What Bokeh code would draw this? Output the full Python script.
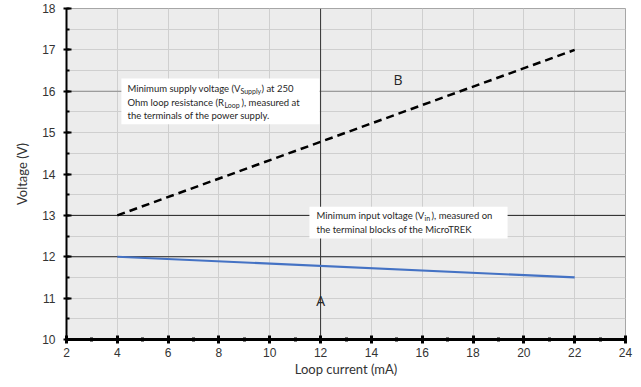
from bokeh.plotting import figure
from bokeh.models import Range1d, SingleIntervalTicker, Span, BoxAnnotation, Label
from bokeh.embed import file_html
from bokeh.resources import INLINE

# ---- data ----
loop_current = [4, 22]            # mA
v_supply_min = [13, 17]           # B: minimum supply voltage (V)
v_input_min = [12, 11.5]          # A: minimum input voltage (V)

x_range = (2, 24)
y_range = (10, 18)
x_tick_interval = 2
y_tick_interval = 1

ref_h_dark = [13, 12]
ref_h_mid = [16]
ref_v_dark = [12]

p = figure(width=633, height=381, output_backend="svg", toolbar_location=None,
           x_range=Range1d(*x_range), y_range=Range1d(*y_range),
           min_border_left=66, min_border_right=8, min_border_top=8, min_border_bottom=42)

p.background_fill_color = "#ececec"
p.border_fill_color = "white"
p.outline_line_color = "#a6a6a6"
p.outline_line_width = 1

p.xaxis.ticker = SingleIntervalTicker(interval=x_tick_interval, num_minor_ticks=2)
p.yaxis.ticker = SingleIntervalTicker(interval=y_tick_interval, num_minor_ticks=2)

grid_col = "#cfcfcf"
p.xgrid.grid_line_color = grid_col
p.ygrid.grid_line_color = grid_col
p.ygrid.minor_grid_line_color = grid_col

for ax in (p.xaxis[0], p.yaxis[0]):
    ax.axis_line_color = "black"
    ax.major_tick_line_color = "black"
    ax.minor_tick_line_color = "black"
    ax.major_label_text_font = "Liberation Sans"
    ax.major_label_text_font_size = "12px"
    ax.major_label_text_color = "#333333"
    ax.axis_label_text_font = "Lato"
    ax.axis_label_text_font_size = "13px"
    ax.axis_label_text_font_style = "normal"
    ax.axis_label_text_color = "#333333"

p.xaxis.axis_line_width = 3
p.xaxis.major_tick_line_width = 3
p.xaxis.minor_tick_line_width = 3
p.xaxis.major_tick_in = 4
p.xaxis.major_tick_out = 4
p.xaxis.minor_tick_in = 2
p.xaxis.minor_tick_out = 2
p.xaxis.major_label_standoff = 4
p.xaxis.axis_label = "Loop current (mA)"
p.xaxis.axis_label_standoff = 1

p.yaxis.axis_line_width = 2
p.yaxis.major_tick_line_width = 2
p.yaxis.minor_tick_line_width = 2
p.yaxis.major_tick_in = 5
p.yaxis.major_tick_out = 3
p.yaxis.minor_tick_in = 3
p.yaxis.minor_tick_out = 0
p.yaxis.major_label_standoff = 8
p.yaxis.axis_label = "Voltage (V)"
p.yaxis.axis_label_standoff = 9

# reference lines
for yv in ref_h_dark:
    p.add_layout(Span(location=yv, dimension="width", line_color="#222222", line_width=1, level="underlay"))
for yv in ref_h_mid:
    p.add_layout(Span(location=yv, dimension="width", line_color="#8c8c8c", line_width=1, level="underlay"))
for xv in ref_v_dark:
    p.add_layout(Span(location=xv, dimension="height", line_color="#333333", line_width=1, level="underlay"))

# data lines
p.line(loop_current, v_supply_min, line_color="black", line_width=2.5, line_dash="8 5")
p.line(loop_current, v_input_min, line_color="#4472c4", line_width=2.2)

# annotation boxes
p.add_layout(BoxAnnotation(left=4.16, right=11.96, bottom=15.20, top=16.31,
                           fill_color="white", fill_alpha=1, line_alpha=0))
p.add_layout(BoxAnnotation(left=11.56, right=19.36, bottom=12.44, top=13.21,
                           fill_color="white", fill_alpha=1, line_alpha=0))

def txt(x, y, s, dx=0, dy=0, size="9.5px"):
    p.add_layout(Label(x=x, y=y, text=s, x_offset=dx, y_offset=dy,
                       text_font="Lato", text_font_size=size, text_color="#262626",
                       text_baseline="middle", text_align="left"))

# box 1
bx1 = 4.40
txt(bx1, 16.07, "Minimum supply voltage (V")
txt(bx1, 16.07, "Supply", dx=113, dy=-3, size="7px")
txt(bx1, 16.07, ") at 250", dx=134)
txt(bx1, 15.73, "Ohm loop resistance (R")
txt(bx1, 15.73, "Loop", dx=97, dy=-3, size="7px")
txt(bx1, 15.73, "), measured at", dx=114)
txt(bx1, 15.41, "the terminals of the power supply.")

# box 2
bx2 = 11.84
txt(bx2, 13.0, "Minimum input voltage (V")
txt(bx2, 13.0, "in", dx=108, dy=-3, size="7px")
txt(bx2, 13.0, "), measured on", dx=115)
txt(bx2, 12.66, "the terminal blocks of the MicroTREK")

# series letters
p.add_layout(Label(x=15.05, y=16.28, text="B", text_font="Open Sans", text_font_size="14px",
                   text_color="#262626", text_align="center", text_baseline="middle"))
p.add_layout(Label(x=12, y=10.95, text="A", text_font="Open Sans", text_font_size="14px",
                   text_color="#262626", text_align="center", text_baseline="middle"))

open("out.html", "w").write(file_html(p, INLINE))
